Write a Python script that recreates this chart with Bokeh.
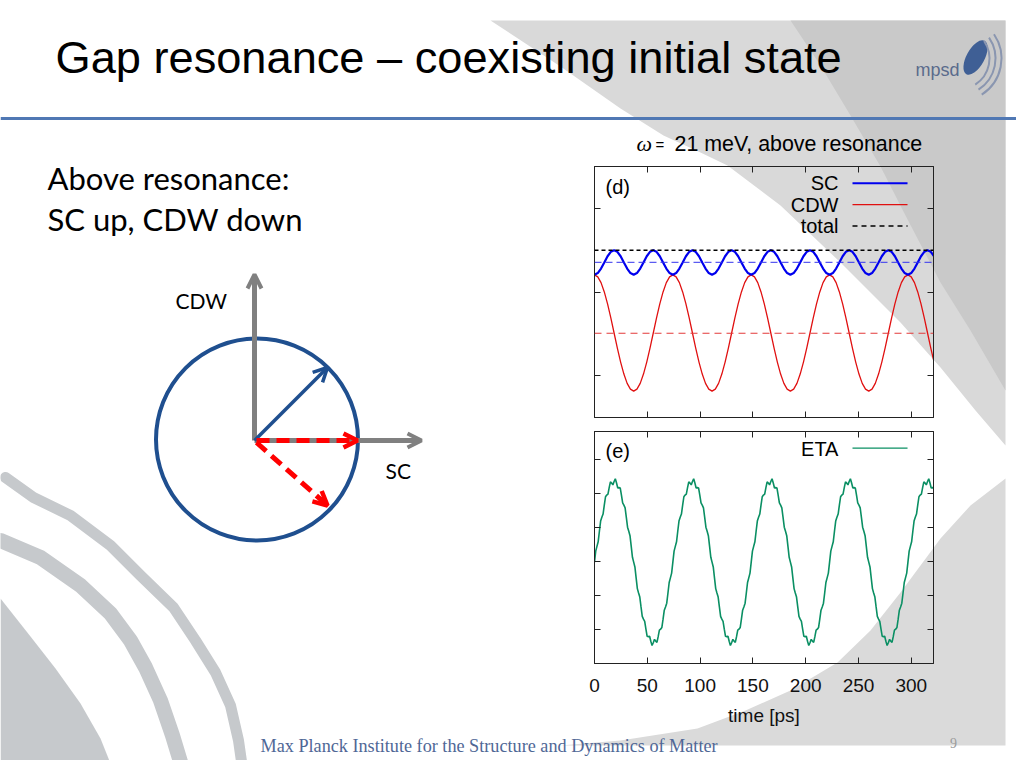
import numpy as np
from bokeh.plotting import figure
from bokeh.models import (Range1d, LinearAxis, FixedTicker, CustomJSTickFormatter,
                          Arrow, OpenHead, Span, GridBox)
from bokeh.core.properties import value
from bokeh.embed import file_html
from bokeh.resources import INLINE

# ------------------------------------------------------------------ data
# (arbitrary units, one oscillation period)
period_ps = 74.2
cdw_period = [1.705, 1.681, 1.612, 1.501, 1.358, 1.190, 1.010, 0.830, 0.662, 0.519, 0.408, 0.339,
              0.315, 0.339, 0.408, 0.519, 0.662, 0.830, 1.010, 1.190, 1.358, 1.501, 1.612, 1.681]
sc_period = [1.706, 1.726, 1.780, 1.853, 1.927, 1.980, 2.000, 1.980, 1.927, 1.853, 1.780, 1.726,
             1.706, 1.726, 1.780, 1.853, 1.927, 1.980, 2.000, 1.980, 1.927, 1.853, 1.780, 1.726]
eta_period = [2.980, 3.302, 3.442, 3.578, 3.887, 4.187, 4.297, 4.394,
              4.656, 4.902, 4.951, 4.980, 5.170, 5.338, 5.305, 5.249,
              5.350, 5.429, 5.305, 5.158, 5.170, 5.160, 4.951, 4.722,
              4.656, 4.574, 4.297, 4.007, 3.887, 3.758, 3.442, 3.122,
              2.980, 2.838, 2.518, 2.202, 2.073, 1.953, 1.663, 1.387,
              1.304, 1.238, 1.009, 0.800, 0.790, 0.802, 0.656, 0.531,
              0.610, 0.711, 0.656, 0.622, 0.790, 0.980, 1.009, 1.058,
              1.304, 1.567, 1.663, 1.773, 2.073, 2.382, 2.518, 2.658]
sc_mean = 1.855
cdw_mean = 1.007
total_value = 2.0
time_ticks = [0, 50, 100, 150, 200, 250, 300]
d_yticks = [0.5, 1.5, 2.5]
e_yticks = [1, 2, 3, 4, 5, 6]
t_max = 321

# repeat the read period over the time window
n_c = 105
t_c = [i * period_ps / len(cdw_period) for i in range(n_c)]
cdw = [cdw_period[i % len(cdw_period)] for i in range(n_c)]
sc = [sc_period[i % len(sc_period)] for i in range(n_c)]
n_e = 278
t_e = [i * period_ps / len(eta_period) for i in range(n_e)]
eta = [eta_period[i % len(eta_period)] for i in range(n_e)]


def txt(p, x, y, s, size, font="Liberation Sans", color="black", align="left",
        baseline="middle", style="normal"):
    p.text(x=[x], y=[y], text=[s], text_font=value(font), text_font_size=value(size),
           text_color=color, text_align=align, text_baseline=baseline,
           text_font_style=style)


# ------------------------------------------------------------------ slide background
bg = figure(width=1016, height=760, x_range=Range1d(0, 1016), y_range=Range1d(760, 0),
            x_axis_location=None, y_axis_location=None, min_border=0,
            output_backend="svg", toolbar_location=None, outline_line_color=None,
            background_fill_color="white", border_fill_color="white")
bg.grid.grid_line_color = None

# gray swooshes
bg.patch([490, 1005, 1005, 975, 940, 900, 840, 780, 727, 700, 663, 620, 560],
         [20, 20, 445, 410, 367, 322, 262, 205, 165, 152, 135, 108, 66],
         fill_color="#d9d9d9", line_color=None)
bg.patch([790, 1005, 1005, 970, 940, 905, 880, 850, 820],
         [20, 20, 390, 330, 282, 215, 166, 115, 65],
         fill_color="#c9c9c9", line_color=None)
bg.patch([1005, 1005, 560, 620, 697, 745, 790, 837, 870, 900, 940, 970],
         [478, 745, 745, 740, 728, 710, 690, 662, 630, 592, 538, 505],
         fill_color="#dadada", line_color=None)
# branches lower left
br = "#c6c9cc"
bg.line([5, 33, 70, 110, 140, 173, 195, 215, 230, 238, 242],
        [477, 497, 515, 545, 575, 607, 640, 672, 705, 740, 768],
        line_color=br, line_width=11, line_join="round", line_cap="round")
bg.line([0, 40, 80, 110, 130, 145, 160, 172, 182],
        [540, 557, 585, 613, 640, 667, 700, 735, 768],
        line_color=br, line_width=15, line_join="round", line_cap="round")
bg.patch([0, 30, 55, 80, 100, 112, 0], [598, 636, 668, 703, 738, 768, 768],
         fill_color=br, line_color=None)

# title + rule
txt(bg, 55, 57, "Gap resonance \u2013 coexisting initial state", "45.2px")
bg.line([0, 1016], [118, 118], line_color="#5078b4", line_width=3)

# logo
txt(bg, 915, 69, "mpsd", "18px", color="#5a6b8c")
bg.ellipse(x=[975], y=[57], width=18, height=38, angle=-0.5, fill_color="#3f5f95",
           line_color=None)
bg.arc(x=[958, 958, 958], y=[58, 58, 58], radius=[31, 37, 43], start_angle=-1.0,
       end_angle=0.6, line_color="#8a96b0", line_width=2)

# left text
txt(bg, 47, 177, "Above resonance:", "31px", font="Lato")
txt(bg, 47, 218, "SC up, CDW down", "31px", font="Lato")

# diagram
bg.circle(x=[256.5], y=[439], radius=101, fill_color=None, line_color="#1f4f8f", line_width=4)
gray = "#808080"
bg.add_layout(Arrow(end=OpenHead(size=14, line_color=gray, line_width=4),
                    x_start=254, y_start=440, x_end=254, y_end=274,
                    line_color=gray, line_width=5))
bg.add_layout(Arrow(end=OpenHead(size=14, line_color=gray, line_width=4),
                    x_start=254, y_start=440, x_end=421, y_end=440,
                    line_color=gray, line_width=5))
bg.add_layout(Arrow(end=OpenHead(size=14, line_color="#1f4f8f", line_width=3.5),
                    x_start=254, y_start=440, x_end=327, y_end=367,
                    line_color="#1f4f8f", line_width=3.5))
bg.add_layout(Arrow(end=OpenHead(size=14, line_color="#ff0000", line_width=4.5),
                    x_start=256, y_start=440, x_end=357, y_end=440,
                    line_color="#ff0000", line_width=5, line_dash="13 7"))
bg.add_layout(Arrow(end=OpenHead(size=14, line_color="#ff0000", line_width=4.5),
                    x_start=256, y_start=442, x_end=327, y_end=505,
                    line_color="#ff0000", line_width=5, line_dash="13 7"))
txt(bg, 175, 300, "CDW", "21px", font="Lato")
txt(bg, 385, 470, "SC", "21px", font="Lato")

# header of the plot
txt(bg, 636, 143, "\u03c9", "22px", font="Liberation Serif", style="italic")
txt(bg, 655, 144, "=", "15px")
txt(bg, 674, 143, "21 meV, above resonance", "21.4px")

# footer
txt(bg, 260, 745, "Max Planck Institute for the Structure and Dynamics of Matter", "18.2px",
    font="Liberation Serif", color="#4f6796")
txt(bg, 953, 742, "9", "14px", font="Liberation Serif", color="#9a9a9a", align="center")


# ------------------------------------------------------------------ plots
def frame_axes(p, yticks, labels_below=False):
    blank = CustomJSTickFormatter(code="return '';")
    common = dict(axis_line_color="#222222", major_tick_line_color="#222222",
                  major_tick_in=6, major_tick_out=0, minor_tick_in=0, minor_tick_out=0)
    for loc in ("left", "right"):
        p.add_layout(LinearAxis(ticker=FixedTicker(ticks=yticks), formatter=blank,
                                major_label_standoff=0, **common), loc)
    p.add_layout(LinearAxis(ticker=FixedTicker(ticks=time_ticks), formatter=blank,
                            major_label_standoff=0, **common), "above")
    if labels_below:
        ax = LinearAxis(ticker=FixedTicker(ticks=time_ticks), major_label_standoff=15,
                        major_label_text_font="Liberation Sans",
                        major_label_text_font_size="19px", major_label_text_color="#111111",
                        axis_label="time [ps]", axis_label_text_font="Liberation Sans",
                        axis_label_text_font_size="19px", axis_label_text_font_style="normal",
                        axis_label_text_color="#111111", axis_label_standoff=10, **common)
    else:
        ax = LinearAxis(ticker=FixedTicker(ticks=time_ticks), formatter=blank,
                        major_label_standoff=0, **common)
    p.add_layout(ax, "below")


def base_plot(fh, yr, bottom):
    p = figure(frame_width=339, frame_height=fh, x_range=Range1d(0, t_max), y_range=yr,
               x_axis_location=None, y_axis_location=None, output_backend="svg",
               toolbar_location=None, min_border_left=20, min_border_right=20,
               min_border_top=10, min_border_bottom=bottom,
               background_fill_color=None, border_fill_color=None,
               outline_line_color="#222222")
    p.grid.grid_line_color = None
    return p


pd_ = base_plot(251, Range1d(0, 3), 4)
frame_axes(pd_, d_yticks)
pd_.add_layout(Span(location=total_value, dimension="width", line_color="black",
                    line_width=1.5, line_dash="4 3"))
pd_.add_layout(Span(location=sc_mean, dimension="width", line_color="#3333ee",
                    line_width=1, line_dash="7 4"))
pd_.add_layout(Span(location=cdw_mean, dimension="width", line_color="#e33a3a",
                    line_width=1.2, line_dash="7 5"))
pd_.line(t_c, cdw, line_color="#e01010", line_width=1.3)
pd_.line(t_c, sc, line_color="#0000ee", line_width=2.2)
txt(pd_, 10.4, 2.75, "(d)", "20px")
txt(pd_, 231, 2.797, "SC", "20px", align="right")
txt(pd_, 231, 2.534, "CDW", "20px", align="right")
txt(pd_, 231, 2.283, "total", "20px", align="right")
pd_.line([244.3, 296.4], [2.80, 2.80], line_color="#0000ee", line_width=2.2)
pd_.line([244.3, 296.4], [2.545, 2.545], line_color="#e01010", line_width=1.3)
pd_.line([244.3, 296.4], [2.29, 2.29], line_color="black", line_width=1.5, line_dash="5 4")

pe_ = base_plot(232, Range1d(0, 6.82), 70)
frame_axes(pe_, e_yticks, labels_below=True)
pe_.line(t_e, eta, line_color="#0a8f63", line_width=1.6)
txt(pe_, 10.4, 6.24, "(e)", "20px")
txt(pe_, 231, 6.31, "ETA", "20px", align="right")
pe_.line([244.3, 296.4], [6.33, 6.33], line_color="#0a8f63", line_width=1.3)

layout = GridBox(children=[(bg, 0, 0, 4, 3), (pd_, 1, 1), (pe_, 2, 1)],
                 rows=["156px", "265px", "312px", "27px"],
                 cols=["574px", "379px", "63px"], spacing=0)

open("out.html", "w").write(file_html(layout, INLINE))
